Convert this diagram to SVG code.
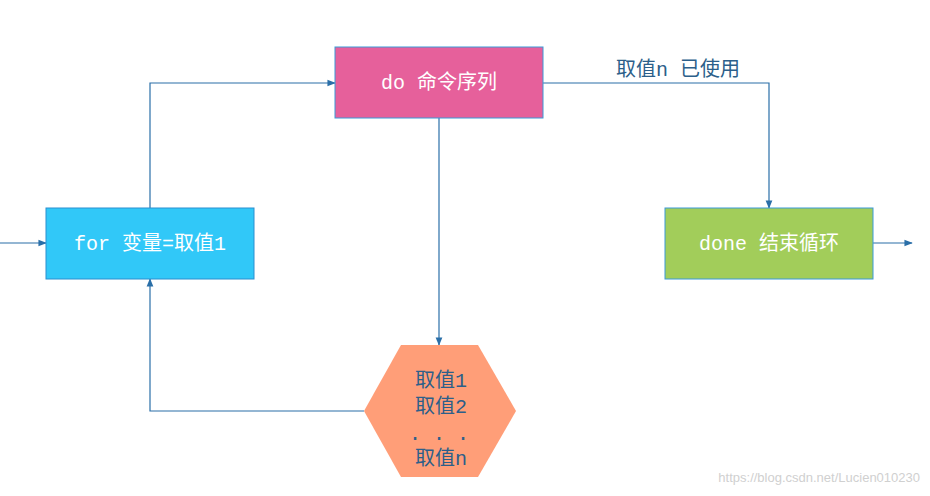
<svg xmlns="http://www.w3.org/2000/svg" width="930" height="496" viewBox="0 0 930 496">
<style>
.t{font-family:"Liberation Mono","Noto Sans CJK SC",monospace;font-size:20px;text-anchor:middle;dominant-baseline:central}
.w{fill:#fff}.b{fill:#2C5F8A}
.c{fill:none;stroke:#2A6FA8;stroke-width:1.2;marker-end:url(#a)}
</style>
<defs><marker id="a" viewBox="0 0 10 10" refX="9" refY="5" markerWidth="7" markerHeight="7" orient="auto"><path d="M0,1 L10,5 L0,9 Z" fill="#2A6FA8"/></marker></defs>
<rect width="930" height="496" fill="#fff"/>
<g id="connectors">
<path class="c" d="M0,243 H46"/>
<path class="c" d="M150,208 V83 H335"/>
<path class="c" d="M543,83 H769 V208"/>
<path class="c" d="M439,118 V345"/>
<path class="c" d="M364,411 H150 V279"/>
<path class="c" d="M873,243 H912"/>
</g>
<text class="t b" x="678" y="70">取值n 已使用</text>
<g id="for"><rect x="46" y="208" width="208" height="71" fill="#31C8F8" stroke="#2A8FD0"/><text class="t w" x="150" y="244">for 变量=取值1</text></g>
<g id="do"><rect x="335" y="47" width="208" height="71" fill="#E6609B" stroke="#3A9AD8"/><text class="t w" x="439" y="83">do 命令序列</text></g>
<g id="done"><rect x="665" y="208" width="208" height="71" fill="#A2CD5A" stroke="#3A9AD8"/><text class="t w" x="769" y="244">done 结束循环</text></g>
<g id="values"><polygon points="401,345 478,345 516,411 478,477 401,477 364,411" fill="#FF9E78"/>
<text class="t b" x="441" y="381">取值1</text><text class="t b" x="441" y="407">取值2</text><text class="t b" x="439" y="434">. . .</text><text class="t b" x="441" y="459">取值n</text></g>
<text x="920" y="482" font-family="Liberation Sans,sans-serif" font-size="13" fill="#D0D0D0" text-anchor="end">https://blog.csdn.net/Lucien010230</text>
</svg>
